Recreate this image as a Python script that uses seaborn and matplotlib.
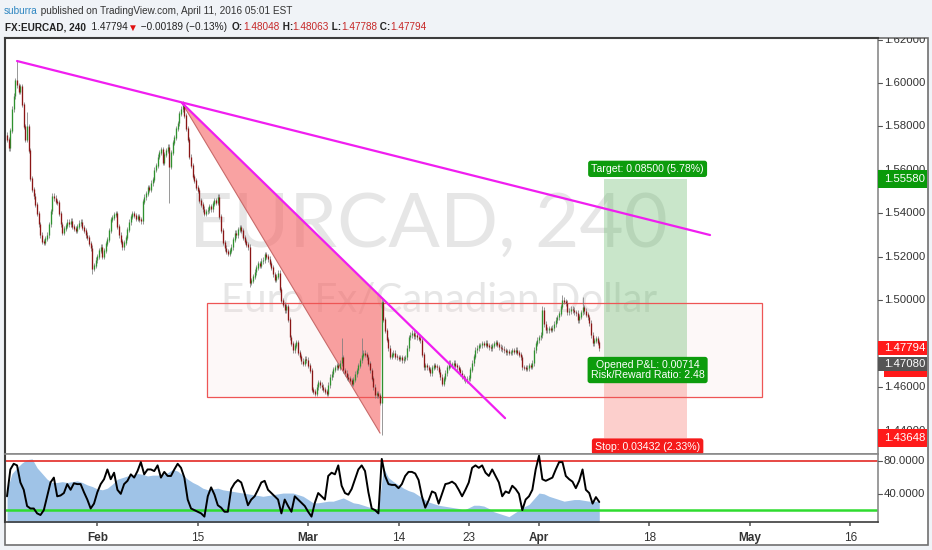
import numpy as np
import pandas as pd
import seaborn as sns
import matplotlib.pyplot as plt
from matplotlib.patches import Rectangle, Polygon

# EURCAD 4h closes (bar 0 = Jan 19 2016, 6 bars per trading day)
closes_jan = [1.5740, 1.5700, 1.5780, 1.5880, 1.5940, 1.6010, 1.5990, 1.5960, 1.5985, 1.5900,
              1.5800, 1.5740, 1.5800, 1.5690, 1.5560, 1.5510, 1.5480, 1.5440, 1.5400, 1.5350,
              1.5300, 1.5270, 1.5265, 1.5285, 1.5300, 1.5350, 1.5410, 1.5480, 1.5470, 1.5455,
              1.5450, 1.5400, 1.5350, 1.5310, 1.5330, 1.5345, 1.5360, 1.5350, 1.5365, 1.5340,
              1.5330, 1.5320, 1.5340, 1.5355, 1.5360, 1.5335, 1.5320, 1.5300, 1.5290, 1.5260,
              1.5240, 1.5145, 1.5160, 1.5185]
closes_feb = [1.5200, 1.5230, 1.5245, 1.5200, 1.5230, 1.5260,
              1.5280, 1.5320, 1.5370, 1.5380, 1.5395, 1.5400, 1.5340, 1.5300, 1.5270, 1.5245,
              1.5265, 1.5290, 1.5325, 1.5360, 1.5385, 1.5400, 1.5390, 1.5375, 1.5385, 1.5370,
              1.5365, 1.5455, 1.5475, 1.5490, 1.5520, 1.5510, 1.5540, 1.5555, 1.5600, 1.5620,
              1.5660, 1.5680, 1.5695, 1.5635, 1.5670, 1.5690, 1.5705, 1.5615, 1.5680, 1.5725,
              1.5750, 1.5790, 1.5815, 1.5860, 1.5880, 1.5900, 1.5850, 1.5790, 1.5740, 1.5660,
              1.5620, 1.5570, 1.5550, 1.5520, 1.5505, 1.5460, 1.5440, 1.5420, 1.5400, 1.5410,
              1.5415, 1.5430, 1.5420, 1.5445, 1.5460, 1.5450, 1.5475, 1.5385, 1.5320, 1.5265,
              1.5240, 1.5225, 1.5215, 1.5230, 1.5245, 1.5280, 1.5310, 1.5300, 1.5325, 1.5335,
              1.5320, 1.5290, 1.5270, 1.5255, 1.5245, 1.5080, 1.5090, 1.5110, 1.5130, 1.5150,
              1.5170, 1.5160, 1.5180, 1.5185, 1.5210, 1.5200, 1.5190, 1.5170, 1.5150, 1.5120,
              1.5095, 1.5110, 1.5125, 1.5050, 1.5000, 1.4980, 1.4955, 1.4970, 1.4910, 1.4830,
              1.4800, 1.4770, 1.4790, 1.4805, 1.4760, 1.4740, 1.4720, 1.4710, 1.4730, 1.4725]
closes_mar = [1.4700, 1.4675, 1.4590, 1.4580, 1.4570, 1.4600, 1.4620, 1.4610, 1.4600, 1.4590,
              1.4580, 1.4572, 1.4610, 1.4646, 1.4660, 1.4680, 1.4692, 1.4700, 1.4690, 1.4711,
              1.4738, 1.4678, 1.4665, 1.4646, 1.4640, 1.4630, 1.4618, 1.4635, 1.4660, 1.4678,
              1.4700, 1.4724, 1.4745, 1.4757, 1.4750, 1.4738, 1.4710, 1.4678, 1.4640, 1.4600,
              1.4563, 1.4570, 1.4560, 1.4530, 1.4990, 1.4910, 1.4860, 1.4820, 1.4780, 1.4740,
              1.4750, 1.4757, 1.4740, 1.4738, 1.4730, 1.4735, 1.4724, 1.4730, 1.4738, 1.4780,
              1.4830, 1.4840, 1.4849, 1.4835, 1.4840, 1.4830, 1.4825, 1.4817, 1.4750, 1.4692,
              1.4700, 1.4692, 1.4680, 1.4665, 1.4690, 1.4701, 1.4695, 1.4692, 1.4670, 1.4646,
              1.4618, 1.4640, 1.4665, 1.4690, 1.4711, 1.4700, 1.4705, 1.4711, 1.4700, 1.4692,
              1.4680, 1.4665, 1.4650, 1.4640, 1.4632, 1.4638, 1.4642, 1.4680, 1.4711, 1.4740,
              1.4771, 1.4780, 1.4790, 1.4793, 1.4800, 1.4795, 1.4803, 1.4790, 1.4785, 1.4780,
              1.4790, 1.4800, 1.4807, 1.4795, 1.4785, 1.4780, 1.4775, 1.4770, 1.4761, 1.4765,
              1.4760, 1.4761, 1.4770, 1.4765, 1.4771, 1.4760, 1.4750, 1.4738, 1.4692, 1.4690,
              1.4685, 1.4688, 1.4700, 1.4695, 1.4711, 1.4771, 1.4800, 1.4817]
closes_apr = [1.4830, 1.4840,
              1.4955, 1.4890, 1.4863, 1.4863, 1.4870, 1.4865, 1.4872, 1.4890, 1.4909, 1.4922,
              1.4940, 1.4970, 1.5001, 1.4995, 1.4987, 1.4945, 1.4950, 1.4960, 1.4955, 1.4945,
              1.4941, 1.4909, 1.4925, 1.4945, 1.4968, 1.4950, 1.4935, 1.4922, 1.4895, 1.4840,
              1.4803, 1.4815, 1.4825, 1.48048, 1.47794]
first_open = 1.5760
wick = 0.0012
spike_highs = {6: 1.6101, 12: 1.5866, 105: 1.5915, 200: 1.4826, 212: 1.4826,
               224: 1.5005, 320: 1.4975, 332: 1.5024, 344: 1.5015}
spike_lows = {51: 1.5120, 97: 1.5447, 145: 1.5060, 224: 1.4380}

# indicator panel: oscillator every 2 bars, shaded series every 3 bars
stoch_vals = [37, 70, 77, 75, 54, 45, 25, 22, 22, 16,
              14, 20, 37, 54, 60, 37, 38, 41, 52, 45,
              53, 52, 52, 42, 33, 22, 28, 42, 52, 58,
              70, 58, 66, 45, 40, 52, 56, 64, 60, 68,
              79, 64, 70, 70, 68, 75, 60, 67, 62, 62,
              70, 77, 72, 60, 33, 22, 20, 18, 16, 12,
              37, 48, 39, 26, 23, 18, 18, 46, 53, 57,
              54, 41, 26, 33, 37, 45, 54, 56, 45, 41,
              37, 33, 16, 33, 25, 18, 37, 33, 29, 25,
              18, 12, 29, 41, 37, 33, 62, 66, 64, 75,
              50, 41, 39, 46, 58, 70, 75, 68, 42, 22,
              20, 16, 83, 62, 52, 51, 51, 47, 52, 62,
              67, 67, 65, 57, 37, 23, 32, 43, 41, 28,
              40, 52, 53, 55, 52, 45, 37, 45, 54, 72,
              75, 72, 75, 66, 62, 70, 62, 54, 37, 43,
              41, 50, 46, 40, 20, 33, 37, 45, 70, 87,
              58, 56, 58, 60, 70, 79, 79, 62, 58, 55,
              47, 56, 70, 45, 41, 28, 36, 30]
blue_vals = [45, 65, 72, 78, 82, 83, 72, 65, 58, 54,
             54, 55, 54, 55, 56, 54, 51, 49, 46, 45,
             47, 52, 58, 60, 62, 63, 65, 64, 62, 63,
             63, 64, 66, 70, 68, 63, 58, 54, 51, 47,
             45, 46, 47, 45, 44, 43, 42, 41, 40, 39,
             38, 37, 38, 39, 40, 41, 41, 41, 39, 37,
             33, 29, 29, 30, 31, 31, 33, 35, 32, 29,
             28, 26, 24, 22, 22, 72, 60, 55, 51, 47,
             44, 42, 38, 34, 30, 28, 26, 25, 24, 23,
             22, 20, 23, 26, 26, 25, 22, 18, 16, 14,
             12, 16, 20, 24, 27, 34, 41, 40, 37, 35,
             33, 31, 32, 33, 33, 32, 31, 31, 31]

# drawings (bar index, price)
trend_long = ([6.0, 420.2], [1.6101, 1.5300])
trend_steep = ([104.6, 297.7], [1.5908, 1.4457])
wedge = [(104.6, 1.5908), (224.0, 1.5010), (223.0, 1.4388)]
range_box = (119.5, 451.3, 1.4554, 1.4987)
pos_bars = (356.8, 406.5)
entry, target, stop = 1.4708, 1.5558, 1.43648

tick_bars = [54, 114, 180, 234, 276, 318, 384, 444, 504]
tick_labels = ['Feb', '15', 'Mar', '14', '23', 'Apr', '18', 'May', '16']
price_ticks = [1.44, 1.46, 1.50, 1.52, 1.54, 1.56, 1.58, 1.60, 1.62]

closes = np.array(closes_jan + closes_feb + closes_mar + closes_apr)
bars = np.arange(len(closes))
opens = np.r_[first_open, closes[:-1]]
highs = np.maximum(opens, closes) + wick
lows = np.minimum(opens, closes) - wick
for i, v in spike_highs.items():
    highs[i] = max(highs[i], v)
for i, v in spike_lows.items():
    lows[i] = min(lows[i], v)
df = pd.DataFrame({'bar': bars, 'open': opens, 'close': closes, 'high': highs, 'low': lows})
df['top'] = df[['open', 'close']].max(axis=1) + 0.00015
df['bot'] = df[['open', 'close']].min(axis=1) - 0.00015

sns.set_theme(style='white')
plt.rcParams['font.family'] = ['Liberation Sans', 'DejaVu Sans']

W, H = 932, 550
fig = plt.figure(figsize=(W / 100, H / 100), dpi=100, facecolor='#f0f3f7')


def place(x0, y0, x1, y1):
    return [x0 / W, 1 - y1 / H, (x1 - x0) / W, (y1 - y0) / H]


# background frame and header (pixel coordinates)
bg = fig.add_axes([0, 0, 1, 1], zorder=-5)
bg.set_xlim(0, W)
bg.set_ylim(H, 0)
bg.axis('off')
bg.add_patch(Rectangle((5, 38), 923, 507, facecolor='white', edgecolor='#707070', lw=1.2))

hsize = 7.2
t = bg.text(4, 14.5, 'suburra', color='#2e86c1', fontsize=hsize, va='baseline')
bg.annotate(' published on TradingView.com, April 11, 2016 05:01 EST', xy=(1, 0), xycoords=t,
            va='bottom', ha='left', fontsize=hsize, color='#333333')

parts = [('FX:EURCAD, 240', '#222222', 'bold'), ('  1.47794', '#222222', 'normal'),
         ('\u25bc', '#e01010', 'normal'), (' \u22120.00189 (\u22120.13%)  ', '#222222', 'normal'),
         ('O:', '#222222', 'bold'), ('1.48048', '#c62828', 'normal'),
         (' H:', '#222222', 'bold'), ('1.48063', '#c62828', 'normal'),
         (' L:', '#222222', 'bold'), ('1.47788', '#c62828', 'normal'),
         (' C:', '#222222', 'bold'), ('1.47794', '#c62828', 'normal')]
prev = bg.text(5, 30.5, parts[0][0], color=parts[0][1], fontweight=parts[0][2],
               fontsize=hsize, va='baseline')
for s, c, w in parts[1:]:
    prev = bg.annotate(s, xy=(1, 0), xycoords=prev, va='bottom', ha='left',
                       fontsize=hsize, color=c, fontweight=w)

# main price panel
ax = fig.add_axes(place(5, 38, 878, 454))
ylim = (1.4292, 1.6207)
xlim = (-1.2, 520.6)
ax.set_xlim(xlim)
ax.set_ylim(ylim)
ax.set_xticks([])
ax.set_yticks([])

ax.text(0.4845, 0.4976, 'EURCAD, 240', transform=ax.transAxes, ha='center', va='baseline',
        fontsize=55, color='#e6e6e6', family=['Lato', 'DejaVu Sans'], zorder=0)
ax.text(0.497, 0.3413, 'Euro Fx/Canadian Dollar', transform=ax.transAxes, ha='center',
        va='baseline', fontsize=29, color='#e6e6e6', family=['Lato', 'DejaVu Sans'], zorder=0)

x0, x1, y0, y1 = range_box
ax.add_patch(Rectangle((x0, y0), x1 - x0, y1 - y0, facecolor='#f6dede', alpha=0.2,
                       edgecolor='none', zorder=1))
ax.add_patch(Rectangle((x0, y0), x1 - x0, y1 - y0, facecolor='none', edgecolor='#ee5555',
                       lw=0.9, zorder=2))

ax.add_patch(Polygon(wedge, closed=True, facecolor='#f66464', alpha=0.6, edgecolor='none', zorder=1))
ax.plot([wedge[0][0], wedge[2][0]], [wedge[0][1], wedge[2][1]], color='#c86a6a', lw=0.8, zorder=2)

p0, p1 = pos_bars
ax.add_patch(Rectangle((p0, entry), p1 - p0, target - entry, facecolor='#4caf50', alpha=0.3,
                       edgecolor='none', zorder=1))
ax.add_patch(Rectangle((p0, stop), p1 - p0, entry - stop, facecolor='#f44336', alpha=0.25,
                       edgecolor='none', zorder=1))

# candles: grey wicks, green / dark red bodies
ax.vlines(df['bar'], df['low'], df['high'], color='#7c7c7c', lw=0.55, zorder=3)
up = df['close'] >= df['open']
ax.vlines(df['bar'][up], df['bot'][up], df['top'][up], color='#2f912f', lw=0.95, zorder=4)
ax.vlines(df['bar'][~up], df['bot'][~up], df['top'][~up], color='#8a1616', lw=0.95, zorder=4)

sns.lineplot(x=trend_long[0], y=trend_long[1], ax=ax, color='#f01ef0', lw=1.6, zorder=5)
sns.lineplot(x=trend_steep[0], y=trend_steep[1], ax=ax, color='#f01ef0', lw=1.6, zorder=5)

green, red = '#0d9c0d', '#f51b1b'
mid = (p0 + p1) / 2
box = dict(boxstyle='round,pad=0.3,rounding_size=0.25', ec='none')
ax.annotate('Target: 0.08500 (5.78%)', xy=(mid, target), xytext=(1.5, 7.3), textcoords='offset points',
            ha='center', va='center', fontsize=7.6, color='white', bbox={**box, 'fc': green}, zorder=6)
ax.annotate('Opened P&L: 0.00714\nRisk/Reward Ratio: 2.48', xy=(mid, entry), xytext=(1.5, -4.6),
            textcoords='offset points', ha='center', va='center', fontsize=7.6, color='white',
            linespacing=1.0, bbox={**box, 'fc': green}, zorder=6)
ax.annotate('Stop: 0.03432 (2.33%)', xy=(mid, stop), xytext=(1.5, -6.0), textcoords='offset points',
            ha='center', va='center', fontsize=7.6, color='white', bbox={**box, 'fc': red}, zorder=6)

for side in ['top', 'left']:
    ax.spines[side].set_color('#3c3c3c')
    ax.spines[side].set_linewidth(1.5)
for side in ['right', 'bottom']:
    ax.spines[side].set_color('#8a8a8a')
    ax.spines[side].set_linewidth(1.2)

# price scale
pax = fig.add_axes(place(878, 38, 928, 454))
pax.set_xlim(0, 1)
pax.set_ylim(ylim)
pax.axis('off')
for p in price_ticks:
    pax.plot([0, 0.08], [p, p], color='#555555', lw=0.8, clip_on=True)
    pax.text(0.12, p, f'{p:.5f}', va='center', ha='left', fontsize=8.2, color='#333333', clip_on=True)

ppx = (ylim[1] - ylim[0]) / 416
pax.add_patch(Rectangle((0.12, 1.4646), 0.86, 0.0046, facecolor='#ff1a1a', edgecolor='none', zorder=3))
for price, label, col, hpx in [(target, '1.55580', '#0a9a0a', 18), (1.47794, '1.47794', '#ff1a1a', 14),
                               (entry, '1.47080', '#555555', 14), (stop, '1.43648', '#ff1a1a', 18)]:
    pax.add_patch(Rectangle((0, price - hpx * ppx / 2), 0.98, hpx * ppx, facecolor=col,
                            edgecolor='none', zorder=4, clip_on=True))
    pax.text(0.12, price, label, va='center', ha='left', fontsize=8.2, color='white', zorder=5)

# indicator panel
ix = fig.add_axes(place(5, 454, 878, 522))
ix.set_xlim(xlim)
ix.set_ylim(5.4, 89)
blue_bars = np.arange(0, len(closes), 3)
stoch_bars = np.arange(0, len(closes), 2)
ix.fill_between(blue_bars, 0, blue_vals, color='#9fc3e7', lw=0, zorder=1)
sns.lineplot(x=stoch_bars, y=stoch_vals, ax=ix, color='black', lw=1.4, zorder=3)
ix.axhline(80, color='#e53935', lw=1.3, zorder=2)
ix.axhline(20, color='#2fdc2f', lw=1.8, zorder=2)
ix.set_yticks([])
ix.set_ylabel('')
ix.set_xticks(tick_bars)
ix.set_xticklabels(tick_labels)
for lab in ix.get_xticklabels():
    lab.set_fontweight('bold' if lab.get_text().isalpha() else 'normal')
ix.tick_params(axis='x', bottom=True, length=3, color='#666666', labelsize=8.5,
               labelcolor='#333333', pad=4)
for side in ['top', 'right']:
    ix.spines[side].set_color('#8a8a8a')
    ix.spines[side].set_linewidth(1.2)
ix.spines['left'].set_color('#3c3c3c')
ix.spines['left'].set_linewidth(1.5)
ix.spines['bottom'].set_color('#3c3c3c')
ix.spines['bottom'].set_linewidth(1.2)

iax = fig.add_axes(place(878, 454, 928, 522))
iax.set_xlim(0, 1)
iax.set_ylim(5.4, 89)
iax.axis('off')
for v in [80, 40]:
    iax.plot([0, 0.08], [v, v], color='#555555', lw=0.8)
    iax.text(0.12, v, f'{v:.4f}', va='center', ha='left', fontsize=8.2, color='#333333')

fig.savefig('out.png', dpi=100, facecolor=fig.get_facecolor())
